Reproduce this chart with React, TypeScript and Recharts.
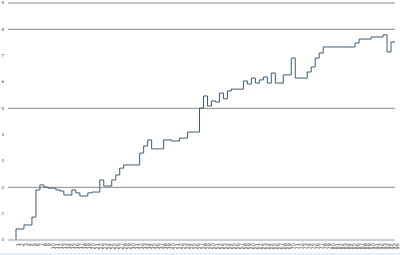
import { LineChart, Line, XAxis, YAxis, ReferenceLine } from "recharts";

const values = [
  0, 0.42, 0.42, 0.57, 0.57, 0.87, 1.9, 2.09, 2.01, 1.97, 1.97, 1.9, 1.86, 1.71, 1.71, 1.9,
  1.79, 1.67, 1.67, 1.79, 1.82, 1.82, 2.28, 2.05, 2.05, 2.28, 2.47, 2.73, 2.85, 2.85, 2.85, 2.85,
  3.3, 3.57, 3.8, 3.46, 3.46, 3.46, 3.8, 3.8, 3.76, 3.76, 3.87, 3.87, 4.1, 4.1, 4.1, 5.01,
  5.47, 5.09, 5.28, 5.24, 5.58, 5.36, 5.66, 5.73, 5.73, 5.73, 6.04, 5.92, 6.15, 5.96, 6.08, 6.19,
  5.96, 6.34, 5.96, 5.96, 6.27, 6.27, 6.91, 6.15, 6.15, 6.15, 6.38, 6.57, 6.91, 7.1, 7.33, 7.33,
  7.33, 7.33, 7.33, 7.33, 7.33, 7.33, 7.48, 7.63, 7.63, 7.63, 7.71, 7.71, 7.71, 7.79, 7.14, 7.52,
];
const categories = values.map((_, i) => String(i + 1));
const yTicks = [0, 1, 2, 3, 4, 5, 6, 7, 8, 9];
const gridLevels = [2, 5, 8, 9];

const data = categories.map((c, i) => ({ c, v: values[i] }));

export default function App() {
  return (
    <div style={{ position: "absolute", left: 0, top: 0, width: 400, height: 255, background: "#fff" }}>
      <LineChart width={400} height={255} data={data} margin={{ top: 3, right: 5, left: 0, bottom: 0 }}>
        <XAxis
          dataKey="c"
          interval={0}
          height={15}
          padding={{ left: 8 }}
          angle={-90}
          textAnchor="end"
          tick={{ fill: "#333", fontSize: 5, fontFamily: "DejaVu Sans" }}
          tickLine={false}
          tickSize={0}
          axisLine={{ stroke: "#999" }}
          tickMargin={3}
        />
        <YAxis
          domain={[0, 9]}
          ticks={yTicks}
          width={8}
          tick={{ fill: "#444", fontSize: 4, fontFamily: "DejaVu Sans" }}
          axisLine={false}
          tickLine={false}
          tickSize={0}
          tickMargin={4}
        />
        {gridLevels.map((g) => (
          <ReferenceLine key={g} y={g} stroke="#8a8a8a" strokeWidth={1} />
        ))}
        <Line
          type="stepBefore"
          dataKey="v"
          stroke="#3e5b70"
          strokeWidth={1}
          dot={false}
          isAnimationActive={false}
        />
      </LineChart>
      <div style={{ position: "absolute", left: 0, bottom: 0, width: 400, height: 2, background: "#e3f0f6" }} />
    </div>
  );
}
